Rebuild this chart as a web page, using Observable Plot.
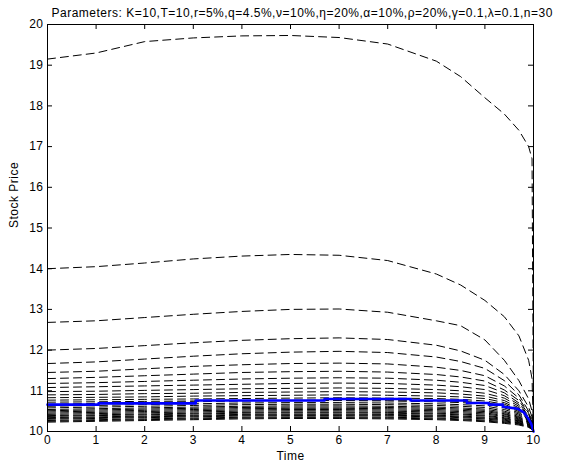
<!DOCTYPE html>
<html>
<head>
<meta charset="utf-8">
<script src="https://cdn.jsdelivr.net/npm/d3@7"></script>
<script src="https://cdn.jsdelivr.net/npm/@observablehq/plot@0.6"></script>
<style>
  html, body { margin: 0; padding: 0; background: #fff; }
  svg text { letter-spacing: 0.5px; }
</style>
</head>
<body>
<div id="chart"></div>
<script>
const titleText = "Parameters: K=10,T=10,r=5%,q=4.5%,\u03BD=10%,\u03B7=20%,\u03B1=10%,\u03C1=20%,\u03B3=0.1,\u03BB=0.1,n=30";
const xLabel = "Time";
const yLabel = "Stock Price";
const xTicks = [0, 1, 2, 3, 4, 5, 6, 7, 8, 9, 10];
const yTicks = [10, 11, 12, 13, 14, 15, 16, 17, 18, 19, 20];

// common time grid for the dashed curves
const times = [0, 1, 2, 3, 4, 5, 6, 7, 8, 8.5, 9, 9.4, 9.7, 9.9, 9.97, 10];

const curve01 = [19.15, 19.3, 19.58, 19.67, 19.72, 19.73, 19.68, 19.52, 19.1, 18.72, 18.2, 17.8, 17.4, 17.0, 16.7, 10];
const curve02 = [14.0, 14.05, 14.14, 14.24, 14.31, 14.35, 14.33, 14.2, 13.87, 13.6, 13.22, 12.82, 12.35, 11.75, 11.3, 10];
const curve03 = [12.68, 12.72, 12.8, 12.88, 12.95, 13.0, 13.01, 12.93, 12.72, 12.6, 12.25, 11.75, 11.25, 10.8, 10.5, 10];
const curve04 = [12.0, 12.04, 12.11, 12.18, 12.24, 12.28, 12.3, 12.26, 12.12, 11.98, 11.75, 11.4, 11.0, 10.6, 10.35, 10];
const curve05 = [11.67, 11.71, 11.78, 11.85, 11.91, 11.95, 11.97, 11.94, 11.83, 11.72, 11.55, 11.25, 10.9, 10.5, 10.3, 10];
const curve06 = [11.45, 11.48, 11.54, 11.6, 11.64, 11.67, 11.68, 11.66, 11.58, 11.5, 11.37, 11.12, 10.82, 10.45, 10.25, 10];
const curve07 = [11.3, 11.33, 11.37, 11.41, 11.45, 11.47, 11.48, 11.46, 11.4, 11.34, 11.24, 11.02, 10.76, 10.42, 10.23, 10];
const curve08 = [11.18, 11.2, 11.23, 11.26, 11.29, 11.31, 11.32, 11.31, 11.26, 11.21, 11.13, 10.95, 10.7, 10.38, 10.21, 10];
const curve09 = [11.08, 11.1, 11.12, 11.14, 11.16, 11.18, 11.19, 11.18, 11.14, 11.1, 11.03, 10.88, 10.66, 10.36, 10.2, 10];
const curve10 = [10.98, 10.99, 11.01, 11.03, 11.05, 11.06, 11.07, 11.06, 11.03, 11.0, 10.94, 10.82, 10.62, 10.33, 10.18, 10];
const curve11 = [10.9, 10.91, 10.93, 10.94, 10.96, 10.97, 10.98, 10.97, 10.95, 10.92, 10.87, 10.76, 10.58, 10.31, 10.17, 10];
const curve12 = [10.83, 10.84, 10.85, 10.87, 10.88, 10.89, 10.9, 10.89, 10.87, 10.85, 10.81, 10.71, 10.55, 10.3, 10.16, 10];
const curve13 = [10.77, 10.78, 10.79, 10.8, 10.81, 10.82, 10.83, 10.82, 10.81, 10.79, 10.75, 10.67, 10.52, 10.28, 10.15, 10];
const curve14 = [10.72, 10.73, 10.74, 10.75, 10.76, 10.77, 10.77, 10.77, 10.76, 10.74, 10.71, 10.63, 10.49, 10.27, 10.14, 10];
const curve15 = [10.67, 10.69, 10.71, 10.73, 10.75, 10.76, 10.76, 10.75, 10.73, 10.71, 10.68, 10.58, 10.46, 10.29, 10.15, 10];
const curve16 = [10.62, 10.64, 10.66, 10.68, 10.7, 10.71, 10.71, 10.7, 10.68, 10.66, 10.63, 10.54, 10.43, 10.26, 10.14, 10];
const curve17 = [10.58, 10.6, 10.62, 10.64, 10.66, 10.67, 10.67, 10.66, 10.64, 10.62, 10.59, 10.5, 10.4, 10.25, 10.13, 10];
const curve18 = [10.54, 10.56, 10.58, 10.6, 10.62, 10.63, 10.63, 10.62, 10.6, 10.58, 10.55, 10.47, 10.37, 10.23, 10.12, 10];
const curve19 = [10.51, 10.53, 10.55, 10.57, 10.59, 10.6, 10.6, 10.59, 10.57, 10.55, 10.52, 10.44, 10.35, 10.22, 10.11, 10];
const curve20 = [10.48, 10.5, 10.52, 10.54, 10.56, 10.57, 10.57, 10.56, 10.54, 10.52, 10.49, 10.42, 10.33, 10.21, 10.11, 10];
const curve21 = [10.45, 10.47, 10.49, 10.51, 10.53, 10.54, 10.54, 10.53, 10.51, 10.49, 10.46, 10.39, 10.31, 10.19, 10.1, 10];
const curve22 = [10.42, 10.44, 10.46, 10.48, 10.5, 10.51, 10.51, 10.5, 10.48, 10.46, 10.43, 10.37, 10.29, 10.18, 10.09, 10];
const curve23 = [10.39, 10.41, 10.43, 10.45, 10.47, 10.48, 10.48, 10.47, 10.45, 10.43, 10.4, 10.34, 10.27, 10.17, 10.09, 10];
const curve24 = [10.37, 10.39, 10.41, 10.43, 10.45, 10.46, 10.46, 10.45, 10.43, 10.41, 10.38, 10.32, 10.26, 10.16, 10.08, 10];
const curve25 = [10.34, 10.36, 10.38, 10.4, 10.42, 10.43, 10.43, 10.42, 10.4, 10.38, 10.35, 10.3, 10.24, 10.15, 10.08, 10];
const curve26 = [10.32, 10.34, 10.36, 10.38, 10.4, 10.41, 10.41, 10.4, 10.38, 10.36, 10.33, 10.28, 10.22, 10.14, 10.07, 10];
const curve27 = [10.3, 10.32, 10.34, 10.36, 10.38, 10.39, 10.39, 10.38, 10.36, 10.34, 10.31, 10.26, 10.21, 10.13, 10.07, 10];
const curve28 = [10.27, 10.29, 10.31, 10.33, 10.35, 10.36, 10.36, 10.35, 10.33, 10.31, 10.28, 10.24, 10.19, 10.12, 10.06, 10];
const curve29 = [10.25, 10.27, 10.29, 10.31, 10.33, 10.34, 10.34, 10.33, 10.31, 10.29, 10.26, 10.22, 10.18, 10.11, 10.06, 10];
const curve30 = [10.23, 10.25, 10.27, 10.29, 10.31, 10.32, 10.32, 10.31, 10.29, 10.27, 10.24, 10.2, 10.16, 10.1, 10.05, 10];

// blue boundary (stair-stepped)
const boundaryTimes  = [0, 1.05, 1.05, 3.05, 3.05, 5.7, 5.7, 7.47, 7.47, 8.63, 8.63, 9.08, 9.08, 9.37, 9.37, 9.67, 9.8, 9.88, 9.95, 10];
const boundaryValues = [10.66, 10.66, 10.69, 10.69, 10.76, 10.76, 10.80, 10.80, 10.76, 10.76, 10.70, 10.70, 10.66, 10.66, 10.61, 10.56, 10.47, 10.34, 10.2, 10];

const curves = [curve01, curve02, curve03, curve04, curve05, curve06, curve07, curve08, curve09, curve10,
  curve11, curve12, curve13, curve14, curve15, curve16, curve17, curve18, curve19, curve20,
  curve21, curve22, curve23, curve24, curve25, curve26, curve27, curve28, curve29, curve30];

const curveRows = [];
curves.forEach((vals, i) => vals.forEach((v, j) => curveRows.push({id: i, t: times[j], v})));
const boundaryRows = boundaryTimes.map((t, i) => ({t, v: boundaryValues[i]}));

const W = 564, H = 466;
const mL = 47, mR = 31, mT = 24, mB = 35;
const frameH = H - mT - mB, frameW = W - mL - mR;
const tick = 5;

const chart = Plot.plot({
  width: W, height: H,
  marginLeft: mL, marginRight: mR, marginTop: mT, marginBottom: mB,
  style: {fontFamily: "'Liberation Sans', Arial, Helvetica, sans-serif", fontSize: "12px", background: "#fff", color: "#000", overflow: "visible"},
  x: {domain: [0, 10]},
  y: {domain: [10, 20]},
  marks: [
    Plot.line(curveRows, {x: "t", y: "v", z: "id", stroke: "#000", strokeWidth: 1, strokeDasharray: "8,5"}),
    Plot.line(boundaryRows, {x: "t", y: "v", stroke: "#0000ff", strokeWidth: 2.6}),
    Plot.frame({stroke: "#000", strokeWidth: 1}),
    // inward ticks on all four sides
    Plot.tickX(xTicks, {x: d => d, insetTop: frameH - tick, stroke: "#000"}),
    Plot.tickX(xTicks, {x: d => d, insetBottom: frameH - tick, stroke: "#000"}),
    Plot.tickY(yTicks, {y: d => d, insetRight: frameW - tick, stroke: "#000"}),
    Plot.tickY(yTicks, {y: d => d, insetLeft: frameW - tick, stroke: "#000"}),
    Plot.axisX(xTicks, {tickSize: 0, tickPadding: 4, label: null, fontSize: 12}),
    Plot.axisY(yTicks, {tickSize: 0, tickPadding: 4, label: null, fontSize: 12}),
    Plot.text([xLabel], {frameAnchor: "bottom", dy: 25, fontSize: 12, lineAnchor: "middle"}),
    Plot.text([yLabel], {frameAnchor: "left", dx: -33, rotate: -90, fontSize: 12}),
    Plot.text([titleText], {frameAnchor: "top-left", textAnchor: "start", dx: 4, dy: -11, fontSize: 12, lineAnchor: "middle"})
  ]
});
document.getElementById("chart").appendChild(chart);
</script>
</body>
</html>
